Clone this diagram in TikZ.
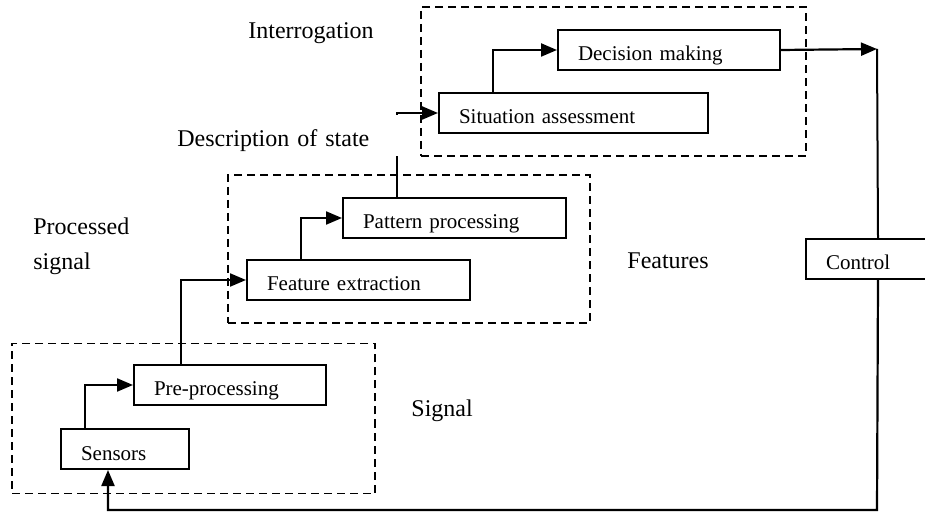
\documentclass[tikz,border=0pt]{standalone}
\usepackage{fontspec}
\setmainfont{Liberation Serif}
\usetikzlibrary{arrows.meta, fit}

\begin{document}
\begin{tikzpicture}[
        x=0.5pt, y=-0.5pt,
        block/.style={rectangle, draw, line width=1pt, anchor=north west, minimum height=20pt, inner xsep=10pt, text width=#1, text height=11pt, text depth=0pt, align=left, font=\fontsize{10.5}{12}\selectfont},
        block/.default=60pt,
        group/.style={draw, dash pattern=on 4pt off 2.5pt, line width=0.9pt, inner ysep=11pt},
        arrow/.style={-{Triangle[length=8pt, width=6.5pt]}, line width=1.1pt},
        note/.style={anchor=base west, inner sep=0pt, align=left, font=\fontsize{12}{17.5}\selectfont}
    ]
    \useasboundingbox (0,0) rectangle (925,512);
    \clip (0,0) rectangle (925,512);

    \node[block=44pt] (sensors) at (60,428) {Sensors};
    \node[block=76pt] (preproc) at (133,364) {Pre-processing};
    \node[block=91.5pt] (featext) at (246,259) {Feature extraction};
    \node[block=91.5pt] (pattern) at (342,197) {Pattern processing};
    \node[block=114.5pt] (situation) at (438,92) {Situation assessment};
    \node[block=91pt] (decision) at (557,29) {Decision making};
    \node[block=52pt] (control) at (805,238) {Control};

    % dashed groups
    \node[group, fit=(sensors) (preproc), inner xsep=24pt, yshift=-0.75pt] (sigbox) {};
    \node[group, fit=(featext) (pattern), inner xsep=10.25pt, xshift=1.25pt] (featbox) {};
    \node[group, fit=(situation) (decision), inner xsep=10.5pt, xshift=2pt] (statebox) {};

    \coordinate (corner) at (877,49);
    \coordinate (back) at (877,510);

    \draw[arrow] ([xshift=12.5pt]sensors.north west) |- (preproc.west);
    \draw[arrow] ([xshift=24pt]preproc.north west) |- (featext.west);
    \draw[arrow] ([xshift=27.5pt]featext.north west) |- (pattern.west);
    \draw[arrow] ([xshift=27.5pt]pattern.north west) |- (situation.west);
    \draw[arrow] ([xshift=27.5pt]situation.north west) |- (decision.west);
    \draw[arrow] (decision.east) -- (corner);
    \draw[line width=1pt] (corner) -- (control.north);
    \draw[arrow] (control.south) -- (back) -| ([xshift=24pt]sensors.south west);

    % level labels
    \node[note] (interr) at (248,39) {Interrogation};
    \node[anchor=north west, fill=white, minimum width=115pt, minimum height=20.5pt, inner xsep=3.5pt, text width=108pt, text height=11pt, text depth=0pt, align=left, font=\fontsize{12}{14}\selectfont] (descr) at (170,115) {Description of state};
    \node[note] (procsig) at (33,270) {Processed\\signal};
    \node[note] (feat) at (627,269) {Features};
    \node[note] (sig) at (411,417) {Signal};
\end{tikzpicture}
\end{document}
